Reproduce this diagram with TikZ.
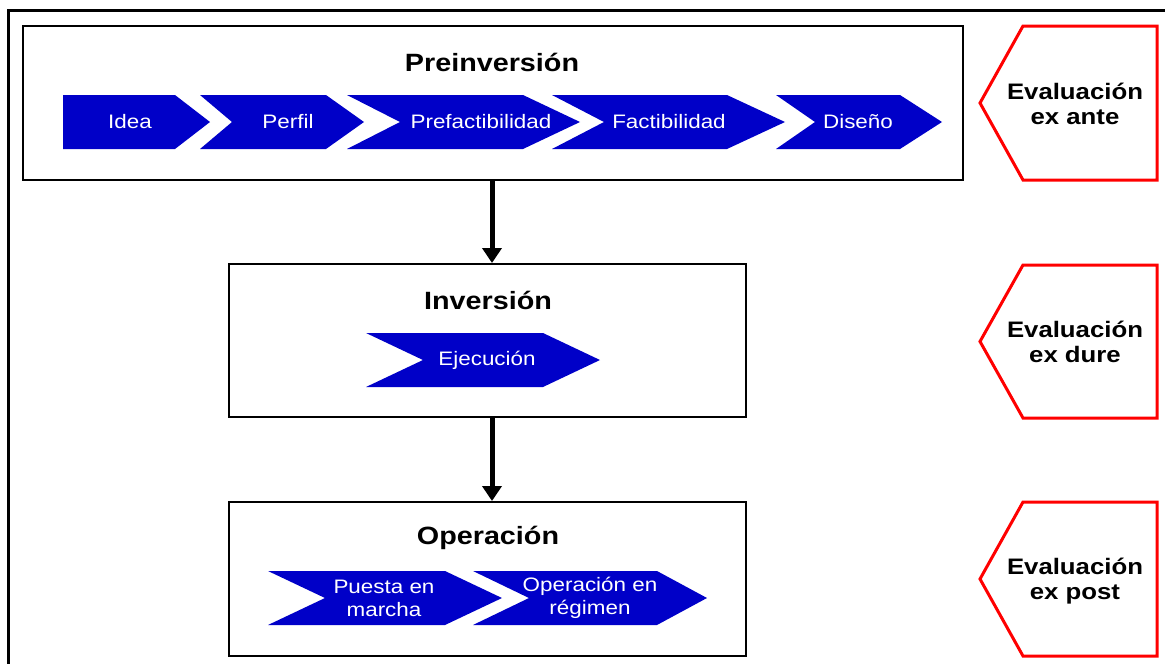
\documentclass[tikz,border=0pt]{standalone}
\usepackage{fontspec}
\setmainfont{Liberation Sans}[FakeStretch=1.15]
\usetikzlibrary{arrows.meta}
\definecolor{chevblue}{RGB}{0,0,200}
\definecolor{evalred}{RGB}{255,0,0}

% chevron: left x, notch x, shoulder x, tip x, top y, bottom y
\newcommand{\chevshape}[6]{%
  \fill[chevblue] (#1,#5) -- (#3,#5) -- (#4,{(#5+#6)/2}) -- (#3,#6) -- (#1,#6)
    -- (#2,{(#5+#6)/2}) -- cycle;}
% evaluation pentagon pointing left: top y, bottom y
\newcommand{\evalshape}[2]{%
  \draw[evalred, line width=3pt, line join=miter]
    (1023,#1) -- (1157,#1) -- (1157,#2) -- (1023,#2) -- (980,{(#1+#2)/2}) -- cycle;}

\begin{document}
\begin{tikzpicture}[x=1pt, y=-1pt,
  phasebox/.style={draw=black, line width=2pt, inner sep=0pt},
  phasetitle/.style={font=\fontsize{25}{28}\selectfont\bfseries},
  chevtext/.style={text=white, align=center, font=\fontsize{19.5}{23}\selectfont},
  evaltext/.style={align=center, font=\fontsize{22.4}{25}\selectfont\bfseries},
  flowarrow/.style={line width=5pt, -{Triangle[length=15pt, width=19pt]}}]
\useasboundingbox (0,0) rectangle (1165,664);

% outer frame
\draw[line width=3pt] (8,664) -- (8,10) -- (1165,10);

% phase boxes
\node[phasebox, minimum width=940pt, minimum height=154pt] (pre) at (493,103) {};
\node[phasebox, minimum width=517pt, minimum height=153pt] (inv) at (487.5,340.5) {};
\node[phasebox, minimum width=517pt, minimum height=154pt] (ope) at (487.5,579) {};

\node[phasetitle] (pretitle) at (492,62) {Preinversión};
\node[phasetitle] (invtitle) at (488,300) {Inversión};
\node[phasetitle] (opetitle) at (488,538) {Operación};

% preinvestment stages
\chevshape{63}{63}{175}{210}{95}{149}
\chevshape{200}{232}{326}{364}{95}{149}
\chevshape{347}{400}{523}{580}{95}{149}
\chevshape{552}{604}{727}{785}{95}{149}
\chevshape{776}{815}{900}{942}{95}{149}
\node[chevtext] (idea) at (130,122) {Idea};
\node[chevtext] (perfil) at (288,122) {Perfil};
\node[chevtext] (prefact) at (481,122) {Prefactibilidad};
\node[chevtext] (fact) at (669,122) {Factibilidad};
\node[chevtext] (disenio) at (858,122) {Diseño};

% investment stage
\chevshape{366}{423}{543}{600}{333}{387}
\node[chevtext] (ejec) at (487,360) {Ejecución};

% operation stages
\chevshape{268}{325}{445}{502}{571}{625}
\chevshape{473}{529}{657}{707}{571}{625}
\node[chevtext] (puesta) at (384,598) {Puesta en\\marcha};
\node[chevtext] (regimen) at (590,598) {Operación en\\régimen};

% flow between phases
\draw[flowarrow] (pre.south -| 492,0) -- (inv.north -| 492,0);
\draw[flowarrow] (inv.south -| 492,0) -- (ope.north -| 492,0);

% evaluation moments
\evalshape{26}{180}
\evalshape{265}{418}
\evalshape{502}{656}
\node[evaltext] (exante) at (1075,104) {Evaluación\\ex ante};
\node[evaltext] (exdure) at (1075,342) {Evaluación\\ex dure};
\node[evaltext] (expost) at (1075,581) {Evaluación\\ex post};
\end{tikzpicture}
\end{document}
